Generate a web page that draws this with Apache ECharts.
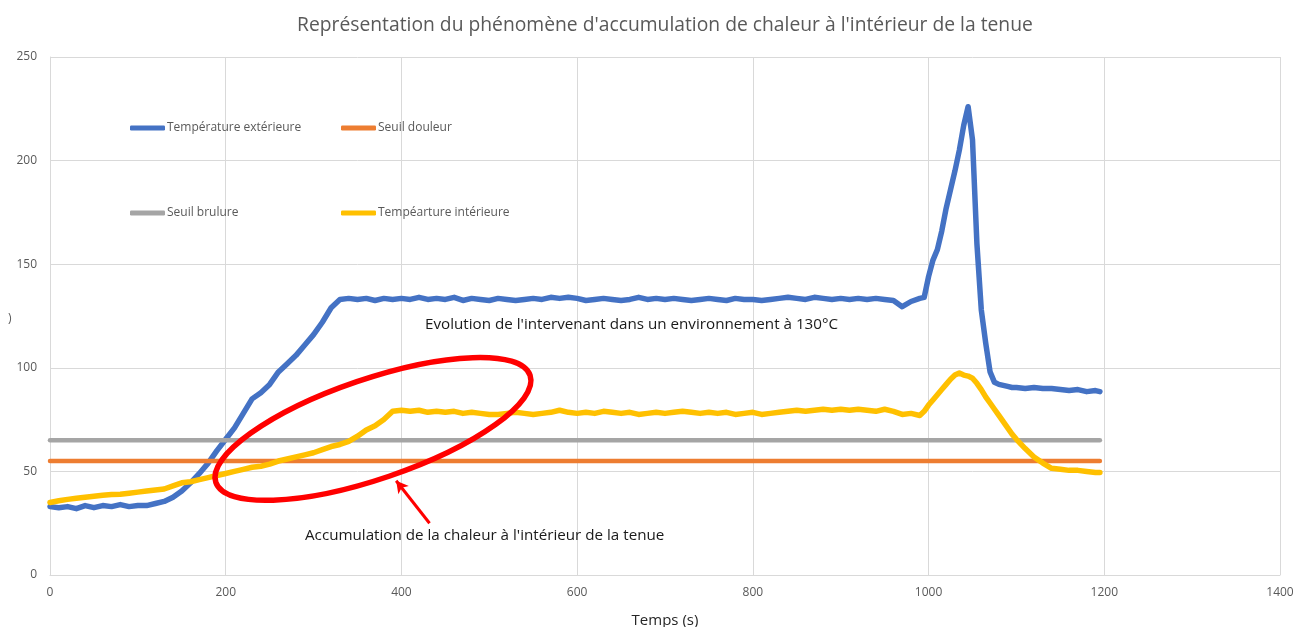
<!DOCTYPE html>
<html>
<head>
<meta charset="utf-8">
<script src="https://cdn.jsdelivr.net/npm/echarts@6/dist/echarts.min.js"></script>
<style>
  html, body { margin: 0; padding: 0; background: #fff; }
  #chart { width: 1295px; height: 627px; }
</style>
</head>
<body>
<div id="chart"></div>
<script>
// Temps de mesure (s)
const times = [
  0, 10, 20, 30, 40, 50, 60, 70, 80, 90,
  100, 110, 120, 130, 140, 150, 160, 170, 180, 190,
  200, 210, 220, 230, 240, 250, 260, 270, 280, 290,
  300, 310, 320, 330, 340, 350, 360, 370, 380, 390,
  400, 410, 420, 430, 440, 450, 460, 470, 480, 490,
  500, 510, 520, 530, 540, 550, 560, 570, 580, 590,
  600, 610, 620, 630, 640, 650, 660, 670, 680, 690,
  700, 710, 720, 730, 740, 750, 760, 770, 780, 790,
  800, 810, 820, 830, 840, 850, 860, 870, 880, 890,
  900, 910, 920, 930, 940, 950, 960, 970, 980, 990,
  995, 1000, 1005, 1010, 1015, 1020, 1025, 1030, 1035, 1040, 1045,
  1050, 1055, 1060, 1065, 1070, 1075, 1080, 1085, 1090, 1095, 1100,
  1110, 1120, 1130, 1140, 1150, 1160, 1170, 1180, 1190, 1195
];

// Température extérieure (°C)
const tempExterieure = [
  33, 32.5, 33, 32, 33.5, 32.5, 33.5, 33, 34, 33,
  33.5, 33.5, 34.5, 35.5, 37.5, 40.5, 44.5, 49, 54, 60,
  65.5, 71, 78, 85, 88, 92, 98, 102, 106, 111,
  116, 122, 129, 133, 133.5, 133, 133.5, 132.5, 133.5, 133,
  133.5, 133, 134, 133, 133.5, 133, 134, 132.5, 133.5, 133,
  132.5, 133.5, 133, 132.5, 133, 133.5, 133, 134, 133.5, 134,
  133.5, 132.5, 133, 133.5, 133, 132.5, 133, 134, 133, 133.5,
  133, 133.5, 133, 132.5, 133, 133.5, 133, 132.5, 133.5, 133,
  133, 132.5, 133, 133.5, 134, 133.5, 133, 134, 133.5, 133,
  133.5, 133, 133.5, 133, 133.5, 133, 132.5, 129.5, 132, 133.5,
  134, 144, 152, 157, 166, 177, 186, 195, 205, 217, 226,
  210, 160, 128, 112, 98, 93, 92, 91.5, 91, 90.5, 90.5,
  90, 90.5, 90, 90, 89.5, 89, 89.5, 88.5, 89, 88.5
];

// Température intérieure (°C)
const tempInterieure = [
  35, 35.8, 36.5, 37, 37.5, 38, 38.5, 38.8, 39, 39.5,
  40, 40.5, 41, 41.5, 43, 44.5, 45, 46, 47, 48,
  49, 50, 51, 52, 52.5, 53.5, 55, 56, 57, 58,
  59, 60.5, 62, 63, 64.5, 67, 70, 72, 75, 79,
  79.5, 79, 79.5, 78.5, 79, 78.5, 79, 78, 78.5, 78,
  77.5, 77.5, 78, 78.5, 78, 77.5, 78, 78.5, 79.5, 78.5,
  78, 78.5, 78, 79, 78.5, 78, 78.5, 77.5, 78, 78.5,
  78, 78.5, 79, 78.5, 78, 78.5, 78, 78.5, 77.5, 78,
  78.5, 77.5, 78, 78.5, 79, 79.5, 79, 79.5, 80, 79.5,
  80, 79.5, 80, 79.5, 79, 80, 79, 77.5, 78, 77,
  79, 82, 84.5, 87, 89.5, 92, 94.5, 96.5, 97.5, 96.5, 96,
  95, 92.5, 89.5, 86, 83, 80, 77, 74, 71, 68, 65.5,
  61, 57, 54, 51.5, 51, 50.5, 50.5, 50, 49.5, 49.5
];

// Seuils (°C)
const seuilDouleur = 55;
const seuilBrulure = 65;

// Graduations
const xTicks = { min: 0, max: 1400, interval: 200 };
const yTicks = { min: 0, max: 250, interval: 50 };

const names = ['Température extérieure', 'Seuil douleur', 'Seuil brulure', 'Tempéarture intérieure'];
const colors = ['#4472C4', '#ED7D31', '#A5A5A5', '#FFC000'];

const pairs = arr => times.map((t, i) => [t, arr[i]]);
const flat = v => [[times[0], v], [times[times.length - 1], v]];

const font = '"Open Sans", "Liberation Sans", Arial, sans-serif';
const gray = '#595959';

function legendAt(name, left, top) {
  return {
    data: [name], left: left, top: top, padding: 0,
    icon: 'roundRect', itemWidth: 35, itemHeight: 5, itemGap: 0,
    textStyle: { color: gray, fontSize: 12, fontFamily: font, padding: [0, 0, 0, -3] },
    selectedMode: false
  };
}

const chart = echarts.init(document.getElementById('chart'));

const option = {
  animation: false,
  textStyle: { fontFamily: font },
  title: {
    text: "Représentation du phénomène d'accumulation de chaleur à l'intérieur de la tenue",
    left: 292, top: 11,
    textStyle: { color: gray, fontSize: 19.3, fontWeight: 'normal', fontFamily: font }
  },
  legend: [
    legendAt(names[0], 130, 122),
    legendAt(names[1], 341, 122),
    legendAt(names[2], 130, 207),
    legendAt(names[3], 341, 207)
  ],
  grid: { left: 50, right: 15, top: 57, bottom: 52, outerBoundsMode: 'none' },
  xAxis: {
    type: 'value', min: xTicks.min, max: xTicks.max, interval: xTicks.interval,
    name: 'Temps (s)', nameLocation: 'middle', nameGap: 38,
    nameTextStyle: { color: '#262626', fontSize: 15, fontFamily: font },
    axisLine: { show: true, lineStyle: { color: '#D9D9D9', width: 1 } },
    axisTick: { show: false },
    axisLabel: { color: gray, fontSize: 12, margin: 12, fontFamily: font, formatter: v => String(v) },
    splitLine: { show: true, lineStyle: { color: '#D9D9D9', width: 1 } }
  },
  yAxis: {
    type: 'value', min: yTicks.min, max: yTicks.max, interval: yTicks.interval,
    axisLine: { show: true, lineStyle: { color: '#D9D9D9', width: 1 } },
    axisTick: { show: false },
    axisLabel: { color: gray, fontSize: 12, margin: 13, fontFamily: font },
    splitLine: { show: true, lineStyle: { color: '#D9D9D9', width: 1 } }
  },
  series: [
    {
      name: names[0], type: 'line', data: pairs(tempExterieure),
      showSymbol: false, color: colors[0],
      lineStyle: { width: 5.5, color: colors[0], cap: 'round', join: 'round' }
    },
    {
      name: names[1], type: 'line', data: flat(seuilDouleur),
      showSymbol: false, color: colors[1],
      lineStyle: { width: 4.5, color: colors[1], cap: 'round' }
    },
    {
      name: names[2], type: 'line', data: flat(seuilBrulure),
      showSymbol: false, color: colors[2],
      lineStyle: { width: 4.5, color: colors[2], cap: 'round' }
    },
    {
      name: names[3], type: 'line', data: pairs(tempInterieure),
      showSymbol: false, color: colors[3],
      lineStyle: { width: 5.5, color: colors[3], cap: 'round', join: 'round' },
      markLine: {
        silent: true, symbol: ['none', 'arrow'], symbolSize: [10, 12],
        label: { show: false },
        lineStyle: { color: '#FF0000', width: 3, type: 'solid' },
        data: [[{ coord: [432, 25] }, { coord: [394, 45.5] }]]
      }
    }
  ]
};

chart.setOption(option);

// Ellipse rouge autour de la phase d'accumulation
const centre = chart.convertToPixel({ gridIndex: 0 }, [367.6, 70.5]);
chart.setOption({
  graphic: [
    {
      type: 'ellipse', z: 100,
      x: centre[0], y: centre[1], rotation: 18.8 * Math.PI / 180,
      shape: { cx: 0, cy: 0, rx: 166, ry: 50 },
      style: { fill: 'none', stroke: '#FF0000', lineWidth: 5.5 }
    },
    {
      type: 'text', z: 100, left: 425, top: 317,
      style: { text: "Evolution de l'intervenant dans un environnement à 130°C", fill: '#1a1a1a', font: '15.2px ' + font }
    },
    {
      type: 'text', z: 100, left: 305, top: 528,
      style: { text: "Accumulation de la chaleur à l'intérieur de la tenue", fill: '#1a1a1a', font: '15.2px ' + font }
    },
    {
      type: 'text', z: 100, left: 8, top: 313,
      style: { text: ')', fill: gray, font: '12px ' + font }
    }
  ]
});
</script>
</body>
</html>
